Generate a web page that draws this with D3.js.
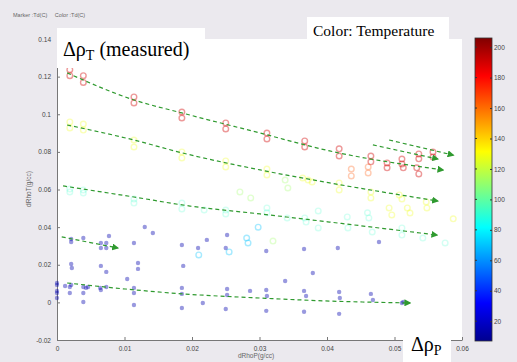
<!DOCTYPE html>
<html>
<head>
<meta charset="utf-8">
<script src="https://cdn.jsdelivr.net/npm/d3@7"></script>
<style>
  html, body { margin: 0; padding: 0; background: #ebe9ee; }
  svg { display: block; }
</style>
</head>
<body>
<svg id="chart" width="517" height="362"></svg>
<script>
// values, [dRhoP, dRhoT] in g/cc
const redPts = [[0.0019,0.1237],[0.0019,0.1205],[0.0039,0.1205],[0.0039,0.1169],[0.0114,0.1092],[0.0114,0.106],
  [0.0185,0.1012],[0.0185,0.098],[0.025,0.0954],[0.025,0.0922],[0.0311,0.09],[0.0311,0.0869],[0.0367,0.0858],
  [0.0367,0.0826],[0.0418,0.0816],[0.0418,0.0778],[0.0465,0.0778],[0.0465,0.0747],[0.0489,0.0741],[0.0489,0.0715],
  [0.0511,0.0762],[0.0511,0.0736],[0.0513,0.0715],[0.0536,0.0789],[0.0536,0.0763],[0.0533,0.0715],[0.0536,0.0683],
  [0.0557,0.0799],[0.0557,0.0773]];
const orangePts = [[0.0436,0.0709],[0.0436,0.0672],[0.0461,0.072],[0.0461,0.0688]];
const yellowPts = [[0.0019,0.0959],[0.0019,0.0927],[0.0039,0.0948],[0.0039,0.0916],[0.0114,0.0863],[0.0114,0.0826],
  [0.0185,0.08],[0.0185,0.0768],[0.025,0.0752],[0.025,0.072],[0.0311,0.0709],[0.0311,0.0677],[0.0364,0.0661],
  [0.0372,0.065],[0.0378,0.064],[0.0418,0.0635],[0.0418,0.0598],[0.0465,0.0587],[0.0465,0.0555],[0.0507,0.0571],
  [0.0511,0.055],[0.0547,0.0534],[0.0548,0.0502],[0.0587,0.0444],[0.0492,0.0502],[0.0496,0.0465],[0.0519,0.0502],
  [0.0523,0.0475]];
const greenPts = [[0.0338,0.065],[0.0342,0.0608],[0.0271,0.0587],[0.0287,0.0555],[0.032,0.0326]];
const cyanPts = [[0.0019,0.0603],[0.0019,0.0587],[0.0039,0.0598],[0.0039,0.0582],[0.0114,0.055],[0.0114,0.0528],
  [0.0185,0.0528],[0.0185,0.0497],[0.0218,0.0491],[0.025,0.0491],[0.025,0.047],[0.0311,0.0502],[0.0311,0.0476],
  [0.0341,0.0449],[0.0367,0.0449],[0.0369,0.0427],[0.0387,0.0486],[0.0387,0.0396],[0.043,0.0454],[0.0431,0.0396],
  [0.046,0.0476],[0.0462,0.0449],[0.0467,0.0374],[0.0511,0.0396],[0.0511,0.0358],[0.0542,0.0342],[0.0575,0.0316]];
const lightBluePts = [[0.0298,0.04],[0.0281,0.0342],[0.0283,0.0316],[0.0255,0.0268],[0.021,0.0252]];
const bluePts = [[0.0021,0.0337],[0.0021,0.0321],[0.0039,0.0342],[0.0065,0.0316],[0.0065,0.0289],[0.0073,0.0316],
  [0.0073,0.0289],[0.0077,0.0353],[0.0114,0.0316],[0.013,0.0401],[0.0142,0.0369],[0.0185,0.0305],[0.0222,0.0332],
  [0.0252,0.0358],[0.0209,0.0289],[0.025,0.0289],[0.031,0.0273],[0.0366,0.0284],[0.0416,0.0289],[0.0477,0.0321],
  [0.0021,0.0204],[0.0022,0.0183],[0.0065,0.0194],[0.0073,0.0162],[0.012,0.0209],[0.012,0.0178],[0.0104,0.0124],
  [0.0187,0.0194],[0.0338,0.0114],[0.0379,0.0156],
  [0,0.0103],[0,0.0093],[0,0.0061],[0,0.005],[0,0.0023],[0.0012,0.0087],[0.0019,0.0082],[0.0021,0.0093],
  [0.0019,0.005],[0.0039,0.0082],[0.0043,0.0077],[0.0046,0.0082],[0.0039,0.005],[0.0039,0.0002],[0.0064,0.0077],
  [0.0065,0.0066],[0.0073,0.0082],[0.0114,0.0077],[0.0114,0.005],[0.0114,-0.0014],[0.0185,0.0077],[0.0185,0.0045],
  [0.0185,-0.003],[0.0216,-0.0003],[0.0252,0.0071],[0.0252,0.0039],[0.025,-0.0035],[0.0286,0.0061],[0.031,0.0066],
  [0.0311,0.0034],[0.031,-0.0045],[0.0366,0.0061],[0.0369,0.0034],[0.0366,-0.005],[0.0418,0.0055],[0.0419,0.0023],
  [0.0418,-0.0061],[0.0465,0.0045],[0.0468,0.0013],[0.0511,-0.0003],[0.0513,0.0002]];

// temperature (C) of each group, for the colour
const groupTemps = { red: 190, orange: 165, yellow: 128, green: 112, cyan: 92, lightBlue: 70, blue: 14 };

// dashed trend arrows
const trendRed = [[0.0015,0.122],[0.0114,0.1076],[0.0185,0.1007],[0.0301,0.09],[0.0404,0.0805],[0.0572,0.0704]];
const trendRedShort1 = [[0.0468,0.0837],[0.0564,0.0762]];
const trendRedShort2 = [[0.0492,0.0863],[0.0587,0.0783]];
const trendYellow = [[0.0015,0.0943],[0.0114,0.0863],[0.0185,0.0795],[0.0301,0.0704],[0.0404,0.0635],[0.0564,0.0539]];
const trendCyan = [[0.0009,0.0619],[0.0114,0.056],[0.0197,0.0512],[0.0301,0.047],[0.0404,0.0427],[0.0563,0.0358]];
const trendBlueShort = [[0.0007,0.0348],[0.009,0.0289]];
const trendBlue = [[0.0015,0.0103],[0.0101,0.0071],[0.0187,0.0045],[0.0301,0.0023],[0.0404,0.0007],[0.0523,-0.0003]];

const xTicks = [0, 0.01, 0.02, 0.03, 0.04, 0.05, 0.06];
const yTicks = [-0.02, 0, 0.02, 0.04, 0.06, 0.08, 0.1, 0.12, 0.14];
const cbTicks = [20, 40, 60, 80, 100, 120, 140, 160, 180, 200];
const cbDomain = [7, 206];

const svg = d3.select("#chart");
const plot = { left: 57, right: 462, top: 39, bottom: 340 };

const x = d3.scaleLinear().domain([0, 0.06]).range([plot.left, plot.right]);
const y = d3.scaleLinear().domain([-0.02, 0.14]).range([plot.bottom, plot.top]);

// jet colormap
const jetStops = [0, 0.125, 0.375, 0.625, 0.875, 1];
const jetColors = ["#00008f", "#0000ff", "#00ffff", "#ffff00", "#ff0000", "#800000"];
const jet = d3.scaleLinear()
  .domain(jetStops.map(f => cbDomain[0] + f * (cbDomain[1] - cbDomain[0])))
  .range(jetColors).clamp(true);

// plot background
svg.append("rect")
  .attr("x", plot.left).attr("y", plot.top)
  .attr("width", plot.right - plot.left).attr("height", plot.bottom - plot.top)
  .attr("fill", "#fff");

const fmt = v => String(+v.toFixed(2));
const tickFont = "Liberation Sans, Arial, sans-serif";

// axes
svg.append("g")
  .attr("transform", `translate(0,${plot.bottom})`)
  .call(d3.axisBottom(x).tickValues(xTicks).tickFormat(fmt).tickSizeInner(-3).tickSizeOuter(0).tickPadding(6))
  .call(g => g.select(".domain").attr("stroke", "#777"))
  .call(g => g.selectAll("line").attr("stroke", "#777"))
  .call(g => g.selectAll("text").attr("fill", "#444").style("font", `6.5px ${tickFont}`));

svg.append("g")
  .attr("transform", `translate(${plot.left},0)`)
  .call(d3.axisLeft(y).tickValues(yTicks).tickFormat(fmt).tickSizeInner(-3).tickSizeOuter(0).tickPadding(6))
  .call(g => g.select(".domain").attr("stroke", "#777"))
  .call(g => g.selectAll("line").attr("stroke", "#777"))
  .call(g => g.selectAll("text").attr("fill", "#444").style("font", `6.5px ${tickFont}`));

svg.append("text")
  .attr("x", 256).attr("y", 358)
  .attr("text-anchor", "middle")
  .attr("fill", "#666").style("font", `6.5px ${tickFont}`)
  .text("dRhoP(g/cc)");

svg.append("text")
  .attr("transform", "translate(31,189) rotate(-90)")
  .attr("text-anchor", "middle")
  .attr("fill", "#666").style("font", `6.5px ${tickFont}`)
  .text("dRhoT(g/cc)");

svg.append("text")
  .attr("x", 13).attr("y", 17)
  .attr("fill", "#666").style("font", `5.5px ${tickFont}`)
  .attr("xml:space", "preserve")
  .text("Marker :Td(C)     Color :Td(C)");

// markers
const markers = svg.append("g");
const openGroups = [
  [redPts, groupTemps.red, 0.4],
  [orangePts, groupTemps.orange, 0.3],
  [yellowPts, groupTemps.yellow, 0.3],
  [greenPts, groupTemps.green, 0.3],
  [cyanPts, groupTemps.cyan, 0.22],
  [lightBluePts, groupTemps.lightBlue, 0.35]
];
openGroups.forEach(([pts, t, op]) => {
  markers.append("g")
    .selectAll("circle")
    .data(pts)
    .join("circle")
    .attr("cx", d => x(d[0]))
    .attr("cy", d => y(d[1]))
    .attr("r", 2.8)
    .attr("fill", "none")
    .attr("stroke", jet(t))
    .attr("stroke-width", 1.4)
    .attr("stroke-opacity", op);
});
markers.append("g")
  .selectAll("circle")
  .data(bluePts)
  .join("circle")
  .attr("cx", d => x(d[0]))
  .attr("cy", d => y(d[1]))
  .attr("r", 2.2)
  .attr("fill", jet(groupTemps.blue))
  .attr("fill-opacity", 0.4);

// trend arrows
const green = "#2f9a2f";
svg.append("defs").append("marker")
  .attr("id", "arrow")
  .attr("viewBox", "0 0 10 10")
  .attr("refX", 8).attr("refY", 5)
  .attr("markerWidth", 7).attr("markerHeight", 7)
  .attr("markerUnits", "userSpaceOnUse")
  .attr("orient", "auto")
  .append("path")
  .attr("d", "M0,0L10,5L0,10Z")
  .attr("fill", green);

const line = d3.line().x(d => x(d[0])).y(d => y(d[1])).curve(d3.curveMonotoneX);
const trends = [trendRed, trendRedShort1, trendRedShort2, trendYellow, trendCyan, trendBlueShort, trendBlue];
svg.append("g")
  .selectAll("path")
  .data(trends)
  .join("path")
  .attr("d", line)
  .attr("fill", "none")
  .attr("stroke", green)
  .attr("stroke-width", 1.2)
  .attr("stroke-dasharray", "4,3")
  .attr("marker-end", "url(#arrow)");

// colorbar
const cb = { x: 475, w: 17, top: 38, bottom: 341 };
const cy = d3.scaleLinear().domain(cbDomain).range([cb.bottom, cb.top]);
const grad = svg.select("defs").append("linearGradient")
  .attr("id", "jetgrad")
  .attr("x1", 0).attr("y1", 1).attr("x2", 0).attr("y2", 0);
grad.selectAll("stop")
  .data(jetStops)
  .join("stop")
  .attr("offset", d => d)
  .attr("stop-color", (d, i) => jetColors[i]);
svg.append("rect")
  .attr("x", cb.x).attr("y", cb.top)
  .attr("width", cb.w).attr("height", cb.bottom - cb.top)
  .attr("fill", "url(#jetgrad)")
  .attr("stroke", "#333").attr("stroke-width", 0.8);
svg.append("g")
  .attr("transform", `translate(${cb.x + cb.w},0)`)
  .call(d3.axisRight(cy).tickValues(cbTicks).tickSizeInner(-2).tickSizeOuter(0).tickPadding(2))
  .call(g => g.select(".domain").remove())
  .call(g => g.selectAll("line").attr("stroke", "#333"))
  .call(g => g.selectAll("text").attr("fill", "#444").style("font", `6.5px ${tickFont}`));
svg.append("g")
  .selectAll("line")
  .data(cbTicks)
  .join("line")
  .attr("x1", cb.x).attr("x2", cb.x + 2)
  .attr("y1", d => cy(d)).attr("y2", d => cy(d))
  .attr("stroke", "#333");

// annotation boxes
const serif = "Liberation Serif, Times New Roman, serif";
svg.append("rect").attr("x", 57).attr("y", 28).attr("width", 148).attr("height", 40).attr("fill", "#fff");
const tT = svg.append("text").attr("x", 63).attr("y", 56).style("font", `20px ${serif}`).attr("fill", "#000");
tT.append("tspan").text("Δρ");
tT.append("tspan").attr("dy", 4).style("font-size", "14px").text("T");
tT.append("tspan").attr("dy", -4).text(" (measured)");

svg.append("rect").attr("x", 307).attr("y", 17).attr("width", 142).attr("height", 23).attr("fill", "#fff");
svg.append("text").attr("x", 313).attr("y", 36).style("font", `15.5px ${serif}`).attr("fill", "#000")
  .text("Color: Temperature");

svg.append("rect").attr("x", 403).attr("y", 328).attr("width", 48).attr("height", 34).attr("fill", "#fff");
const tP = svg.append("text").attr("x", 411).attr("y", 351).style("font", `20px ${serif}`).attr("fill", "#000");
tP.append("tspan").text("Δρ");
tP.append("tspan").attr("dy", 4).style("font-size", "14px").text("P");
</script>
</body>
</html>
